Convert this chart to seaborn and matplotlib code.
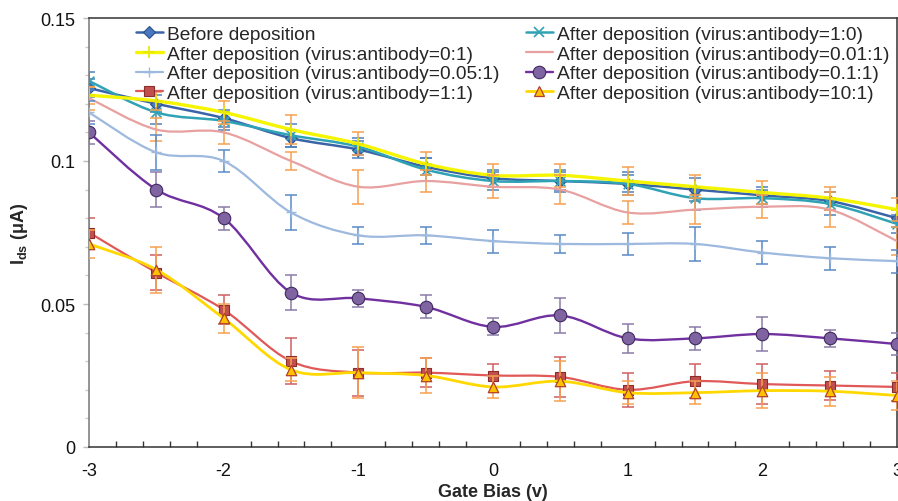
import numpy as np
import pandas as pd
import matplotlib
matplotlib.use("Agg")
import matplotlib.pyplot as plt
import seaborn as sns
from matplotlib.path import Path
from matplotlib.patches import PathPatch
from matplotlib.lines import Line2D
from matplotlib.ticker import MultipleLocator, FixedLocator, FixedFormatter

# ---------------- data ----------------
gate_bias = [-3, -2.5, -2, -1.5, -1, -0.5, 0, 0.5, 1, 1.5, 2, 2.5, 3]

series_labels = [
    "Before deposition",
    "After deposition (virus:antibody=1:0)",
    "After deposition (virus:antibody=0:1)",
    "After deposition (virus:antibody=0.01:1)",
    "After deposition (virus:antibody=0.05:1)",
    "After deposition (virus:antibody=0.1:1)",
    "After deposition (virus:antibody=1:1)",
    "After deposition (virus:antibody=10:1)",
]

before_dep = [0.1255, 0.120, 0.115, 0.108, 0.104, 0.098, 0.094, 0.093, 0.092, 0.090, 0.088, 0.086, 0.080]
ratio_1_0 = [0.128, 0.117, 0.114, 0.109, 0.105, 0.097, 0.093, 0.093, 0.092, 0.087, 0.087, 0.085, 0.078]
ratio_0_1 = [0.123, 0.121, 0.117, 0.111, 0.106, 0.099, 0.095, 0.095, 0.093, 0.091, 0.089, 0.087, 0.083]
ratio_001_1 = [0.122, 0.111, 0.110, 0.100, 0.091, 0.093, 0.091, 0.090, 0.082, 0.083, 0.084, 0.083, 0.072]
ratio_005_1 = [0.117, 0.103, 0.100, 0.082, 0.074, 0.074, 0.072, 0.071, 0.071, 0.071, 0.068, 0.066, 0.065]
ratio_01_1 = [0.110, 0.090, 0.080, 0.054, 0.052, 0.049, 0.042, 0.046, 0.038, 0.038, 0.0395, 0.038, 0.036]
ratio_1_1 = [0.075, 0.061, 0.048, 0.030, 0.026, 0.026, 0.025, 0.0245, 0.020, 0.023, 0.022, 0.0215, 0.021]
ratio_10_1 = [0.071, 0.062, 0.045, 0.027, 0.026, 0.025, 0.021, 0.023, 0.019, 0.019, 0.0197, 0.0195, 0.018]

err_before = [0.003, 0.003, 0.003, 0.003, 0.003, 0.003, 0.003, 0.0033, 0.003, 0.004, 0.003, 0.003, 0.003]
err_1_0 = [0.003, 0.004, 0.003, 0.004, 0.003, 0.004, 0.003, 0.004, 0.004, 0.004, 0.003, 0.004, 0.003]
err_0_1 = [0.003, 0.003, 0.004, 0.005, 0.004, 0.004, 0.004, 0.004, 0.005, 0.004, 0.004, 0.004, 0.004]
err_001_1 = [0.004, 0.004, 0.004, 0.003, 0.006, 0.004, 0.004, 0.005, 0.004, 0.005, 0.004, 0.006, 0.005]
err_005_1 = [0.004, 0.006, 0.004, 0.006, 0.003, 0.003, 0.004, 0.003, 0.004, 0.006, 0.004, 0.004, 0.004]
err_01_1 = [0.004, 0.006, 0.004, 0.006, 0.003, 0.004, 0.003, 0.006, 0.005, 0.004, 0.006, 0.003, 0.004]
err_1_1 = [0.005, 0.006, 0.005, 0.008, 0.008, 0.005, 0.004, 0.007, 0.006, 0.006, 0.007, 0.005, 0.005]
err_10_1 = [0.005, 0.008, 0.005, 0.004, 0.009, 0.006, 0.004, 0.007, 0.004, 0.004, 0.006, 0.005, 0.005]

y_ticks = [0, 0.05, 0.1, 0.15]
y_tick_labels = ["0", "0.05", "0.1", "0.15"]
x_ticks = [-3, -2, -1, 0, 1, 2, 3]
x_tick_labels = ["-3", "-2", "-1", "0", "1", "2", "3"]

# ---------------- style ----------------
sns.set_style("white")
plt.rcParams["font.family"] = ["Liberation Sans", "DejaVu Sans"]
plt.rcParams["axes.unicode_minus"] = False
plt.rcParams["mathtext.fontset"] = "custom"
plt.rcParams["mathtext.rm"] = "Liberation Sans"
plt.rcParams["mathtext.bf"] = "Liberation Sans:bold"

values = [before_dep, ratio_1_0, ratio_0_1, ratio_001_1, ratio_005_1, ratio_01_1, ratio_1_1, ratio_10_1]
errors = [err_before, err_1_0, err_0_1, err_001_1, err_005_1, err_01_1, err_1_1, err_10_1]

styles = [
    dict(lc="#3A64A8", lw=1.8, m="D", mfc="#4A78C0", mec="#2B4F8A", ms=6, mew=0.8, ec="#4F81BD"),
    dict(lc="#2FA3B5", lw=1.8, m="x", mfc="#2FA3B5", mec="#2FA3B5", ms=7, mew=1.2, ec="#4F81BD"),
    dict(lc="#F5F500", lw=2.4, m="+", mfc="#E8E800", mec="#E8E800", ms=8, mew=1.2, ec="#F7A050"),
    dict(lc="#E8A0A0", lw=1.6, m=None, mfc="none", mec="none", ms=0, mew=0, ec="#F7A050"),
    dict(lc="#9DB9DE", lw=1.6, m="+", mfc="#9DB9DE", mec="#9DB9DE", ms=7, mew=1.0, ec="#5A8AC6"),
    dict(lc="#7030A0", lw=1.7, m="o", mfc="#8064A2", mec="#3F2A60", ms=9, mew=0.8, ec="#8A7AA8"),
    dict(lc="#E05858", lw=1.6, m="s", mfc="#C0504D", mec="#8B2E2B", ms=7.5, mew=0.8, ec="#D06060"),
    dict(lc="#FFD800", lw=2.0, m="^", mfc="#FFC000", mec="#B0402A", ms=7.5, mew=0.9, ec="#F7A050"),
]


def smooth_path(xs, ys):
    pts = np.column_stack([xs, ys]).astype(float)
    n = len(pts)
    verts = [pts[0]]
    codes = [Path.MOVETO]
    for i in range(n - 1):
        p0 = pts[i - 1] if i > 0 else pts[i]
        p1 = pts[i]
        p2 = pts[i + 1]
        p3 = pts[i + 2] if i + 2 < n else pts[i + 1]
        c1 = p1 + (p2 - p0) / 6.0
        c2 = p2 - (p3 - p1) / 6.0
        verts += [c1, c2, p2]
        codes += [Path.CURVE4] * 3
    return Path(verts, codes)


fig = plt.figure(figsize=(8.98, 5.02), dpi=100)
ax = fig.add_axes([89 / 898, 54 / 502, 808 / 898, 429 / 502])

for k, (vals, errs, st) in enumerate(zip(values, errors, styles)):
    base_z = 3 + k * 0.1
    ax.errorbar(gate_bias, vals, yerr=errs, fmt="none", ecolor=st["ec"],
                elinewidth=1.1, capsize=4.3, capthick=1.1, zorder=base_z)
    ax.add_patch(PathPatch(smooth_path(gate_bias, vals), fill=False,
                           edgecolor=st["lc"], lw=st["lw"], zorder=base_z + 0.02,
                           capstyle="round", joinstyle="round"))
    if st["m"] is not None:
        df = pd.DataFrame({"x": gate_bias, "y": vals})
        if st["m"] in ("x", "+"):
            sns.scatterplot(data=df, x="x", y="y", marker=st["m"], s=st["ms"] ** 2,
                            color=st["mec"], linewidth=st["mew"], ax=ax,
                            zorder=base_z + 0.05, legend=False)
        else:
            sns.scatterplot(data=df, x="x", y="y", marker=st["m"], s=st["ms"] ** 2,
                            color=st["mfc"], edgecolor=st["mec"], linewidth=st["mew"],
                            ax=ax, zorder=base_z + 0.05, legend=False)

ax.set_xlim(-3, 3)
ax.set_ylim(0, 0.15)

ax.xaxis.set_major_locator(FixedLocator(x_ticks))
ax.xaxis.set_major_formatter(FixedFormatter(x_tick_labels))
ax.xaxis.set_minor_locator(MultipleLocator(0.2))
ax.yaxis.set_major_locator(FixedLocator(y_ticks))
ax.yaxis.set_major_formatter(FixedFormatter(y_tick_labels))
ax.yaxis.set_minor_locator(MultipleLocator(0.01))

ax.tick_params(axis="x", which="major", direction="inout", length=9, width=1,
               color="#333333", labelsize=13, pad=6, labelcolor="#111111")
ax.tick_params(axis="x", which="minor", direction="in", length=4, width=1,
               color="#333333", bottom=True)
ax.tick_params(axis="y", which="major", direction="out", length=4, width=1,
               color="#bbbbbb", labelsize=13, pad=6, labelcolor="#111111", left=True)
ax.tick_params(axis="y", which="minor", direction="out", length=3, width=1,
               color="#cccccc", left=True)

for side in ["left", "bottom", "top", "right"]:
    ax.spines[side].set_visible(True)
    ax.spines[side].set_linewidth(1.1)
ax.spines["left"].set_color("#777777")
ax.spines["bottom"].set_color("#333333")
ax.spines["top"].set_color("#333333")
ax.spines["right"].set_color("#333333")

ax.set_xlabel("Gate Bias (v)", fontsize=13, fontweight="bold", labelpad=3)
ax.set_ylabel(r"$\mathbf{I_{ds}}$ (μA)", fontsize=13, fontweight="bold")
ax.yaxis.set_label_coords(-(89 - 30) / 808, 0.5)

handles = []
for st in styles:
    handles.append(Line2D([], [], color=st["lc"], lw=st["lw"],
                          marker=st["m"] if st["m"] else None,
                          markerfacecolor=st["mfc"], markeredgecolor=st["mec"],
                          markersize=st["ms"], markeredgewidth=st["mew"]))
order = [0, 2, 4, 6, 1, 3, 5, 7]
leg = ax.legend([handles[i] for i in order], [series_labels[i] for i in order],
                ncol=2, frameon=False, fontsize=13.8, loc="upper left",
                bbox_to_anchor=(136 / 898, 1 - 26.5 / 502), bbox_transform=fig.transFigure,
                borderpad=0, borderaxespad=0, labelspacing=0.12, handlelength=1.4,
                handletextpad=0.2, columnspacing=1.4)

fig.savefig("out.png", dpi=100)
